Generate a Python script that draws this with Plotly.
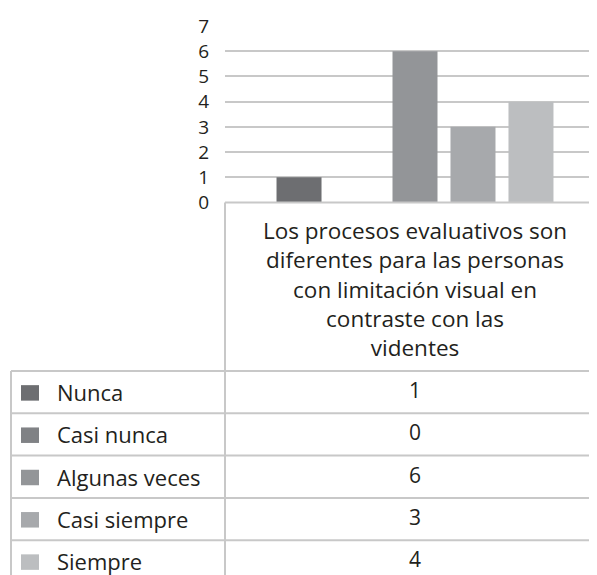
import plotly.graph_objects as go

# ---- data ----
series_names = ["Nunca", "Casi nunca", "Algunas veces", "Casi siempre", "Siempre"]
series_values = [1, 0, 6, 3, 4]
series_colors = ["#6d6e71", "#808285", "#939598", "#a7a9ac", "#bcbec0"]
category = "Los procesos evaluativos son<br>diferentes para las personas<br>con limitación visual en<br>contraste con las<br>videntes"
y_ticks = [0, 1, 2, 3, 4, 5, 6, 7]

W, H = 597, 575
OFF = 8  # page body margin
FONT = "Open Sans"
TXT = "#231f20"
LINE = "#c8c8c8"


def xp(px):
    return (px - OFF) / W


def yp(py):
    return 1 - (py - OFF) / H


fig = go.Figure()
for name, val, col in zip(series_names, series_values, series_colors):
    fig.add_trace(go.Bar(x=[category], y=[val], name=name, marker_color=col,
                         marker_line_width=0, showlegend=False))

# layout geometry (page pixels)
plot_left, plot_right = 225, 605
plot_top, plot_bottom = 26, 202.5
header_top = 202.5
table_top = 371
row_h = 42.3
table_left = 11
val_x = 415

fig.update_layout(
    template="none",
    width=W, height=H,
    margin=dict(l=0, r=0, t=0, b=0),
    paper_bgcolor="white", plot_bgcolor="white",
    barmode="group", bargap=0.237, bargroupgap=0.224,
    font=dict(family=FONT, color=TXT, size=22),
    xaxis=dict(domain=[xp(plot_left), xp(plot_right)], type="category",
               range=[-0.5, 0.5], automargin=False,
               showticklabels=False, showgrid=False, zeroline=False, showline=False),
    yaxis=dict(domain=[yp(plot_bottom), yp(plot_top)], range=[0, 7], automargin=False,
               tickvals=y_ticks, ticktext=[str(v) for v in y_ticks],
               showgrid=True, gridcolor=LINE, gridwidth=2,
               zeroline=False, showline=False, ticks="",
               ticklabelstandoff=15, tickfont=dict(size=19, family=FONT, color=TXT)),
)

shapes = []
annotations = []
# header text
annotations.append(dict(xref="paper", yref="paper", x=xp(val_x), y=yp(213),
                        xanchor="center", yanchor="top", text=category, showarrow=False,
                        align="center", font=dict(size=22.5, family=FONT, color=TXT)))

# table lines
lw = 2
shapes.append(dict(type="line", xref="paper", yref="paper", x0=xp(plot_left), x1=xp(plot_right),
                   y0=yp(header_top), y1=yp(header_top), line=dict(color=LINE, width=lw)))
shapes.append(dict(type="line", xref="paper", yref="paper", x0=xp(plot_left), x1=xp(plot_left),
                   y0=yp(header_top), y1=0, line=dict(color=LINE, width=lw)))
shapes.append(dict(type="line", xref="paper", yref="paper", x0=xp(table_left), x1=xp(table_left),
                   y0=yp(table_top), y1=0, line=dict(color=LINE, width=lw)))
for i in range(len(series_names)):
    yl = table_top + i * row_h
    shapes.append(dict(type="line", xref="paper", yref="paper", x0=xp(table_left), x1=xp(plot_right),
                       y0=yp(yl), y1=yp(yl), line=dict(color=LINE, width=lw)))

for i, (name, val, col) in enumerate(zip(series_names, series_values, series_colors)):
    yc = table_top + i * row_h + row_h / 2
    shapes.append(dict(type="rect", xref="paper", yref="paper",
                       x0=xp(21), x1=xp(39), y0=yp(yc - 7), y1=yp(yc + 8.5),
                       fillcolor=col, line=dict(width=0)))
    annotations.append(dict(xref="paper", yref="paper", x=xp(55), y=yp(yc),
                            xanchor="left", yanchor="middle", text=name, showarrow=False,
                            font=dict(size=22, family=FONT, color=TXT)))
    annotations.append(dict(xref="paper", yref="paper", x=xp(val_x), y=yp(yc - 2),
                            xanchor="center", yanchor="middle", text=str(val), showarrow=False,
                            font=dict(size=21, family=FONT, color=TXT)))

fig.update_layout(shapes=shapes, annotations=annotations)
fig.write_html("out.html")
